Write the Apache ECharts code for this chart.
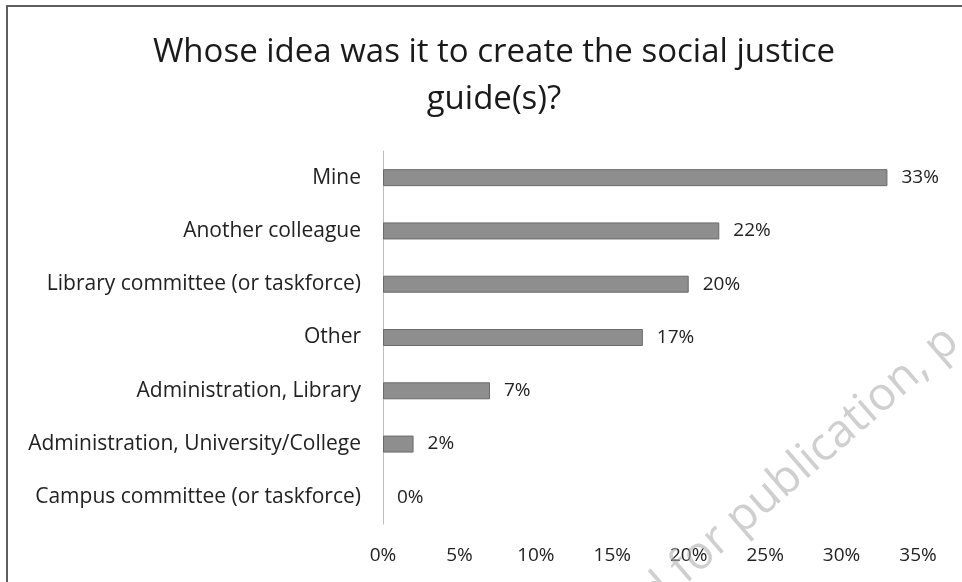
<!DOCTYPE html>
<html>
<head>
<meta charset="utf-8">
<script src="https://cdn.jsdelivr.net/npm/echarts@6/dist/echarts.min.js"></script>
<style>
  html, body { margin: 0; padding: 0; background: #fff; }
  #chart { width: 962px; height: 582px; }
</style>
</head>
<body>
<div id="chart"></div>
<script>
// Survey responses: who came up with the idea for the guide(s)
const categories = [
  'Mine',
  'Another colleague',
  'Library committee (or taskforce)',
  'Other',
  'Administration, Library',
  'Administration, University/College',
  'Campus committee (or taskforce)'
];
const shares = [33, 22, 20, 17, 7, 2, 0];
const tickLabels = ['0%', '5%', '10%', '15%', '20%', '25%', '30%', '35%'];

const FONT = '"Open Sans", Lato, sans-serif';
const chart = echarts.init(document.getElementById('chart'), null, { renderer: 'canvas' });

const wmAngle = 41 * Math.PI / 180;
const wmStyle = { fontFamily: FONT, fontSize: 46, fill: 'rgba(175,175,175,0.6)', textVerticalAlign: 'bottom' };

// zero-length bars get no outline so nothing is drawn for them
const barData = shares.map(function (v) {
  return v === 0 ? { value: v, itemStyle: { borderWidth: 0 } } : v;
});

chart.setOption({
  backgroundColor: '#fff',
  animation: false,
  title: {
    text: 'Whose idea was it to create the social justice\nguide(s)?',
    left: 489,
    top: 24,
    textAlign: 'center',
    textStyle: {
      fontFamily: FONT,
      fontWeight: 'normal',
      fontSize: 33,
      lineHeight: 47,
      color: '#1a1a1a'
    }
  },
  grid: { left: 383, right: 44, top: 151, bottom: 58, containLabel: false },
  xAxis: {
    type: 'value',
    min: 0,
    max: 35,
    interval: 5,
    axisLine: { show: false },
    axisTick: { show: false },
    splitLine: { show: false },
    axisLabel: {
      margin: 22,
      fontFamily: FONT,
      fontSize: 19,
      color: '#222',
      formatter: function (v) { return tickLabels[Math.round(v / 5)]; }
    }
  },
  yAxis: {
    type: 'category',
    data: categories,
    inverse: true,
    axisLine: { show: true, lineStyle: { color: '#bdbdbd', width: 1 } },
    axisTick: { show: false },
    axisLabel: {
      margin: 22,
      fontFamily: FONT,
      fontSize: 21,
      color: '#222'
    }
  },
  series: [{
    type: 'bar',
    data: barData,
    barWidth: 17,
    itemStyle: {
      color: '#8e8e8e',
      borderColor: '#6a6a6a',
      borderWidth: 1
    },
    label: {
      show: true,
      position: 'right',
      distance: 14,
      fontFamily: FONT,
      fontSize: 19,
      color: '#222',
      formatter: function (p) { return p.value + '%'; }
    }
  }],
  graphic: [
    // frame edges
    { type: 'line', shape: { x1: 6, y1: 6, x2: 962, y2: 6 }, style: { stroke: '#5e5e5e', lineWidth: 2 } },
    { type: 'line', shape: { x1: 7, y1: 6, x2: 7, y2: 582 }, style: { stroke: '#5e5e5e', lineWidth: 2 } },
    // faint diagonal watermark
    {
      type: 'text', x: 692, y: 592, rotation: wmAngle, silent: true, z: 100,
      style: Object.assign({ text: 'Accepted ', textAlign: 'right' }, wmStyle)
    },
    {
      type: 'text', x: 692, y: 592, rotation: wmAngle, silent: true, z: 100,
      style: Object.assign({ text: 'for publication, p', textAlign: 'left' }, wmStyle)
    }
  ]
});
</script>
</body>
</html>
